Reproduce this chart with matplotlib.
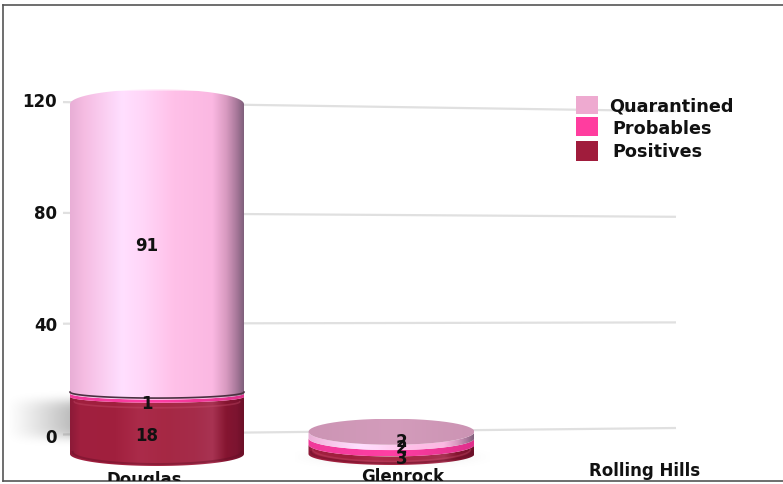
import numpy as np
import matplotlib
matplotlib.use("Agg")
import matplotlib.pyplot as plt
from matplotlib.colors import to_rgb
from matplotlib.path import Path
from matplotlib.patches import PathPatch, Rectangle

# ---- data ----
categories = ["Douglas", "Glenrock", "Rolling Hills"]
series_names = ["Positives", "Probables", "Quarantined"]
positives = [18, 3, 0]
probables = [1, 2, 0]
quarantined = [91, 2, 0]
y_ticks = [0, 40, 80, 120]

# ---- style / layout ----
W, H = 783, 485
FL, FT, FB = 2.5, 6, 482            # frame (pixels)
X0, DX = 157, 234.5                 # category spacing
Y0_AXIS, K_AXIS = 436, 2.8          # axis scale: px of 0, px per unit
Y0_BAR, K_BAR = 455, 3.18           # bars sit nearer to the viewer
half_widths = [87, 83, 83]          # px
ry_levels = [[12, 6, 6, 15], [11, 12, 12, 13], [11, 11, 11, 11]]
label_dx = [-10, 10, 0]
label_dy = [[10, 8, -4], [9, 6, 6], [0, 0, 0]]   # per category/series, px downward
tick_px_x = 57
cat_label_px = [144, 403, 645]
cat_label_py = [480, 477, 471]

POS_STOPS = [(0, "#8c1a38"), (.06, "#a1203f"), (.25, "#a01f3d"), (.4, "#ab2b4a"), (.55, "#a62844"),
             (.72, "#a52c4a"), (.82, "#a83352"), (.9, "#851530"), (.96, "#7c1430"), (1, "#6c1028")]
PROB_STOPS = [(0, "#f0399a"), (.5, "#ff3fa4"), (1, "#e0308c")]
QUAR_STOPS = [(0, "#e8aed6"), (.08, "#f5bce2"), (.3, "#ffdfff"), (.42, "#ffd6f8"),
              (.6, "#ffc0e8"), (.82, "#fbb8e2"), (.9, "#d89ac0"), (.96, "#a8789a"), (1, "#80607c")]
STOPS = [POS_STOPS, PROB_STOPS, QUAR_STOPS]
GLEN_CAP = [(0, "#cc94b4"), (.5, "#d39cbb"), (1, "#cc94b4")]
LEGEND_COLORS = ["#a01c3c", "#ff3d9f", "#eeaad0"]
TXT = "#111111"
FONT = dict(family="DejaVu Sans", fontweight="bold", color=TXT)

fig = plt.figure(figsize=(W / 100, H / 100), dpi=100, facecolor="white")
pos = [FL / W, 1 - FB / H, (W - FL) / W, (FB - FT) / H]
ax = fig.add_axes(pos)
bx = fig.add_axes(pos, facecolor="none")

xlim = ((FL - X0) / DX, (W - X0) / DX)
for a, y0, k in ((ax, Y0_AXIS, K_AXIS), (bx, Y0_BAR, K_BAR)):
    a.set_xlim(*xlim)
    a.set_ylim((y0 - FB) / k, (y0 - FT) / k)
    a.set_xticks([]); a.set_yticks([])
for s in ("left", "top", "bottom"):
    ax.spines[s].set_color("#555555"); ax.spines[s].set_linewidth(1.2)
ax.spines["right"].set_visible(False)
for s in bx.spines.values():
    s.set_visible(False)

px_x = lambda p: (p - X0) / DX
ax_y = lambda p: (Y0_AXIS - p) / K_AXIS
bar_y = lambda p: (Y0_BAR - p) / K_BAR

# perspective grid lines (converging to the right)
LEFT_K, LEFT_C = 2.77, 435.5
RIGHT_K, RIGHT_C = 2.64, 429
for t in y_ticks:
    ax.plot([px_x(63), px_x(676)], [ax_y(LEFT_C - t * LEFT_K), ax_y(RIGHT_C - t * RIGHT_K)],
            color="#e0e0e0", lw=1.6, zorder=1, solid_capstyle="butt")
    ax.annotate(str(t), (px_x(tick_px_x), t), xytext=(0, -1.1), textcoords="offset points",
                ha="right", va="center", fontsize=12, **FONT)

for i, c in enumerate(categories):
    ax.text(px_x(cat_label_px[i]), ax_y(cat_label_py[i]), c, ha="center",
            va="center", fontsize=12, clip_on=True, **FONT)

# soft floor shadow
yy, xx = np.mgrid[392:452:70j, 5:75:80j]
alpha = np.clip((xx - 5) / 65, 0, 1) ** 1.2 * np.exp(-((yy - 420) / 20) ** 4) * 0.26
rgba = np.zeros(alpha.shape + (4,)); rgba[..., 3] = alpha
ax.imshow(rgba, extent=[px_x(5), px_x(75), ax_y(452), ax_y(392)], origin="upper",
          aspect="auto", zorder=2, interpolation="bilinear")
yy, xx = np.mgrid[445:475:40j, 295:490:80j]
alpha = np.exp(-((xx - 392) / 80) ** 4) * np.exp(-((yy - 458) / 7) ** 2) * 0.06
rgba = np.zeros(alpha.shape + (4,)); rgba[..., 3] = alpha
ax.imshow(rgba, extent=[px_x(295), px_x(490), ax_y(475), ax_y(445)], origin="upper",
          aspect="auto", zorder=2, interpolation="bilinear")
ax.set_xlim(*xlim); ax.set_ylim((Y0_AXIS - FB) / K_AXIS, (Y0_AXIS - FT) / K_AXIS)


def gradient(stops, n=256):
    t = np.linspace(0, 1, n)
    p = [s[0] for s in stops]
    cols = np.array([to_rgb(s[1]) for s in stops])
    return np.stack([np.interp(t, p, cols[:, j]) for j in range(3)], -1)[None, :, :]


def arc(xc, hw, yc, ry, a0, a1, n=60):
    th = np.linspace(a0, a1, n)
    return np.c_[xc + hw * np.cos(th), yc + ry * np.sin(th)]


def fill(verts, stops, xc, hw, z):
    patch = PathPatch(Path(np.vstack([verts, verts[:1]])), fc="none", ec="none", transform=bx.transData)
    bx.add_patch(patch)
    ymin, ymax = verts[:, 1].min(), verts[:, 1].max()
    im = bx.imshow(gradient(stops), extent=[xc - hw, xc + hw, ymin, ymax], aspect="auto",
                   zorder=z, interpolation="bilinear")
    im.set_clip_path(patch)


for i in range(len(categories)):
    vals = [positives[i], probables[i], quarantined[i]]
    if sum(vals) == 0:
        continue
    hw = half_widths[i] / DX
    rys = [r / K_BAR for r in ry_levels[i]]
    base = 0
    for s, v in enumerate(vals):
        top = base + v
        lower = arc(i, hw, base, rys[s], np.pi, 2 * np.pi)         # front edge below
        if s == 2 and i == 0:
            upper = arc(i, hw, top, rys[s + 1], 0, np.pi)          # domed top
        else:
            upper = arc(i, hw, top, rys[s + 1], 2 * np.pi, np.pi)  # front edge above
        fill(np.vstack([lower, upper]), STOPS[s], i, hw, 3 + s)
        # bright/dark rims for the moulded look
        if s == 0:
            bx.plot(*arc(i, hw * .97, base + 2 / K_BAR, rys[s], np.pi, 2 * np.pi).T,
                    color="#5f0d24", lw=1.4, alpha=.4, zorder=3.5)
            bx.plot(*arc(i, hw * .95, top - 5 / K_BAR, rys[s + 1], np.pi, 2 * np.pi).T,
                    color="#c9506e", lw=1.2, alpha=.35, zorder=3.5)
        if s == 1 and i == 0:
            bx.plot(*arc(i, hw, top + 1.5 / K_BAR, rys[s + 1], np.pi, 2 * np.pi).T,
                    color="#4a3040", lw=1.2, zorder=6)
        base = top
    if i == 1:
        cap = arc(i, hw, base, rys[3], 0, 2 * np.pi)
        fill(cap, GLEN_CAP, i, hw, 6)
    else:
        bx.plot(*arc(i, hw * .92, base + rys[3] * .78, rys[3] * .2, 0.1, np.pi - .1).T,
                color="white", lw=1.6, alpha=.6, zorder=6)

    # value labels
    base = 0
    for s, v in enumerate(vals):
        bx.annotate(str(v), (i, base + v / 2), xytext=(label_dx[i] * .72, -label_dy[i][s] * .72),
                    textcoords="offset points", ha="center", va="center",
                    fontsize=12, zorder=10, **FONT)
        base += v

# legend
legend_rows = [("Quarantined", 97, 115, 609, 106, 2), ("Probables", 118, 137, 612, 129, 1),
               ("Positives", 142, 162, 612, 152, 0)]
for name, y_top, y_bot, tx, ty, c in legend_rows:
    ax.add_patch(Rectangle((px_x(576), ax_y(y_bot)), 22 / DX, (y_bot - y_top) / K_AXIS,
                           fc=LEGEND_COLORS[c], ec="none", zorder=8))
    ax.text(px_x(tx), ax_y(ty), name, ha="left", va="center", fontsize=12.7, zorder=8, **FONT)

bx.set_xlim(*xlim)
bx.set_ylim((Y0_BAR - FB) / K_BAR, (Y0_BAR - FT) / K_BAR)
fig.savefig("out.png", dpi=100)
